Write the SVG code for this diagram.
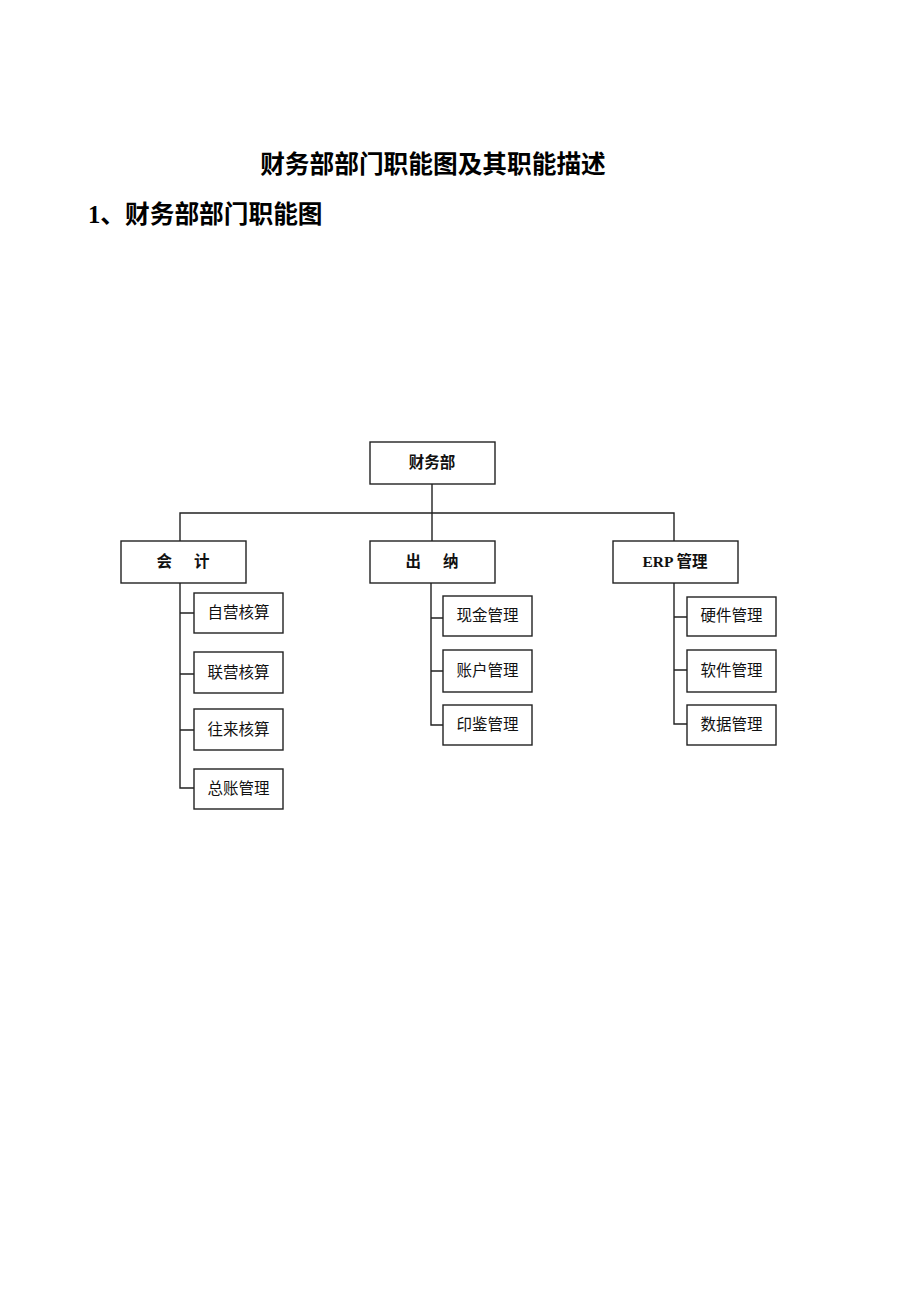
<svg xmlns="http://www.w3.org/2000/svg" width="920" height="1302" viewBox="0 0 920 1302">
<style>
.box{fill:#fff;stroke:#222;stroke-width:1.4}
.ln{fill:none;stroke:#222;stroke-width:1.4}
.t{font-family:"Liberation Serif","Noto Sans CJK SC",serif;font-size:15.5px;fill:#111;text-anchor:middle}
.b{font-weight:bold}
.h{font-family:"Liberation Serif","Noto Sans CJK SC",serif;font-size:24.7px;font-weight:bold;fill:#000}
</style>
<rect width="920" height="1302" fill="#fff"/>
<text class="h" x="433" y="173" text-anchor="middle">财务部部门职能图及其职能描述</text>
<text class="h" x="88" y="223">1、财务部部门职能图</text>
<g id="connectors">
<path class="ln" d="M432 484V541M180 541V513H674V541"/>
<path class="ln" d="M180 583V788H194M180 613H194M180 674H194M180 730H194"/>
<path class="ln" d="M431 583V725H443M431 618H443M431 671H443"/>
<path class="ln" d="M674 583V724H687M674 617H687M674 670H687"/>
</g>
<g id="n0"><rect class="box" x="370" y="442" width="125" height="42"/><text class="t b" x="432" y="468">财务部</text></g>
<g id="n1"><rect class="box" x="121" y="541" width="125" height="42"/><text class="t b" x="183" y="567" text-anchor="middle">会<tspan dx="22">计</tspan></text></g>
<g id="n2"><rect class="box" x="370" y="541" width="125" height="42"/><text class="t b" x="432" y="567">出<tspan dx="22">纳</tspan></text></g>
<g id="n3"><rect class="box" x="613" y="541" width="125" height="42"/><text class="t b" x="675" y="567">ERP 管理</text></g>
<g id="n11"><rect class="box" x="194" y="593" width="89" height="40"/><text class="t" x="238.5" y="618">自营核算</text></g>
<g id="n12"><rect class="box" x="194" y="652" width="89" height="41"/><text class="t" x="238.5" y="678">联营核算</text></g>
<g id="n13"><rect class="box" x="194" y="709" width="89" height="41"/><text class="t" x="238.5" y="735">往来核算</text></g>
<g id="n14"><rect class="box" x="194" y="769" width="89" height="40"/><text class="t" x="238.5" y="794">总账管理</text></g>
<g id="n21"><rect class="box" x="443" y="596" width="89" height="40"/><text class="t" x="487.5" y="621">现金管理</text></g>
<g id="n22"><rect class="box" x="443" y="650" width="89" height="42"/><text class="t" x="487.5" y="676">账户管理</text></g>
<g id="n23"><rect class="box" x="443" y="705" width="89" height="40"/><text class="t" x="487.5" y="730">印鉴管理</text></g>
<g id="n31"><rect class="box" x="687" y="597" width="89" height="39"/><text class="t" x="731.5" y="621">硬件管理</text></g>
<g id="n32"><rect class="box" x="687" y="650" width="89" height="42"/><text class="t" x="731.5" y="676">软件管理</text></g>
<g id="n33"><rect class="box" x="687" y="705" width="89" height="40"/><text class="t" x="731.5" y="730">数据管理</text></g>
</svg>
